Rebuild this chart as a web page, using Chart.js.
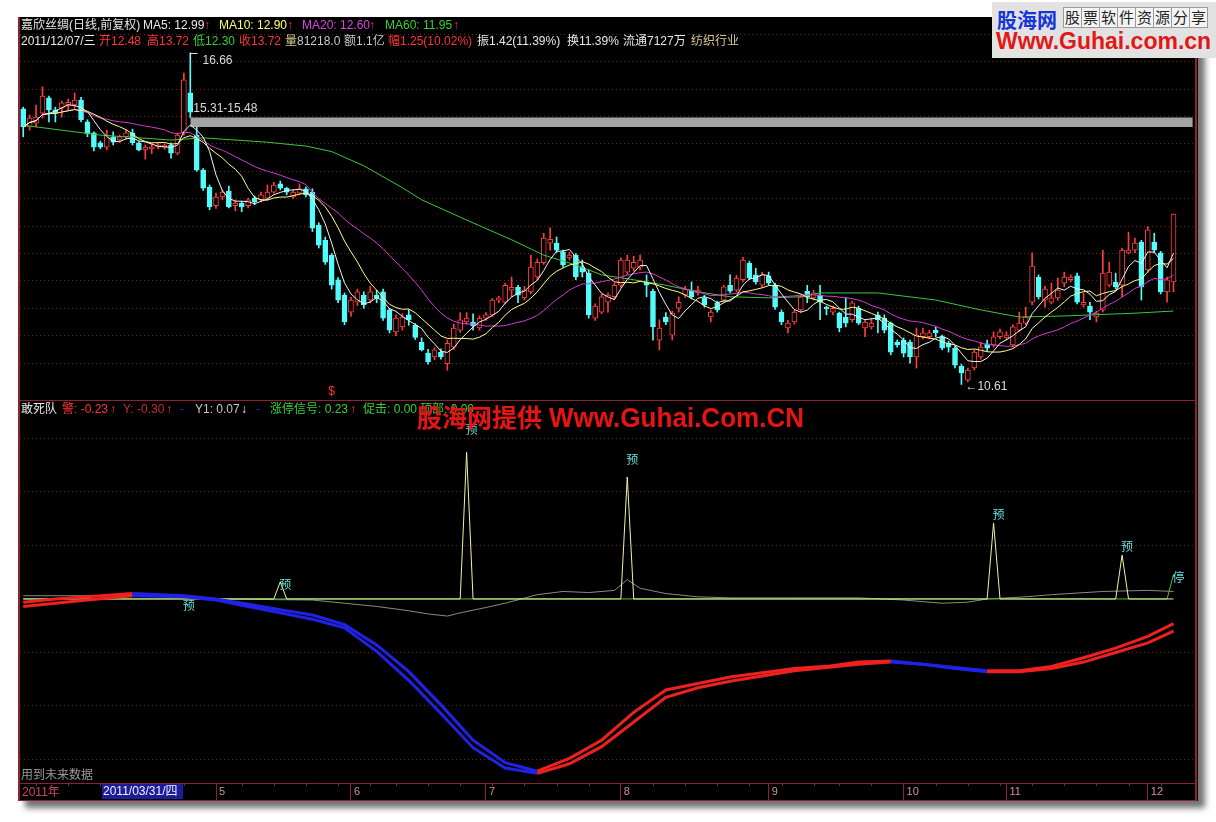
<!DOCTYPE html>
<html>
<head>
<meta charset="utf-8">
<script src="https://cdn.jsdelivr.net/npm/chart.js@4.4.1/dist/chart.umd.min.js"></script>
<style>
  html, body { margin: 0; padding: 0; }
  body { width: 1216px; height: 822px; position: relative; overflow: hidden; background: #fff;
         font-family: "Liberation Sans", "Noto Sans CJK SC", sans-serif; }
  #frame { position: absolute; left: 18px; top: 17px; width: 1180px; height: 784px; background: #000;
           box-shadow: 7px 7px 6px rgba(70,70,70,0.75); }
  .ln { position: absolute; background: #8c2232; }
  canvas { position: absolute; }
  .t { position: absolute; font-size: 12px; line-height: 13px; white-space: nowrap; color: #e8e8e8; }
  .r { color: #ff3434; } .g { color: #34d034; } .y { color: #ffff70; } .m { color: #e040e0; }
  .k { color: #d8c890; } .gy { color: #c8c8c8; }
  #wm { position: absolute; left: 417px; top: 398px; white-space: nowrap; color: #e81414; font-weight: bold; }
  #logo { position: absolute; left: 992px; top: 2px; width: 224px; height: 56px; background: #e2e2e2; }
  .box { display: inline-block; width: 17px; height: 19px; border: 1px solid #9a9a9a; background: #f4f4f4;
         font-size: 15px; line-height: 19px; text-align: center; color: #222; margin-right: -1px; }
</style>
</head>
<body>
<div id="frame"></div>
<canvas id="topChart" width="1176" height="382" style="left:20px;top:18px"></canvas>
<canvas id="botChart" width="1176" height="399" style="left:20px;top:401px"></canvas>
<div class="ln" style="left:18px;top:17px;width:2px;height:784px"></div>
<div class="ln" style="left:1195px;top:17px;width:2px;height:784px"></div>
<div class="ln" style="left:18px;top:400px;width:1179px;height:1px"></div>
<div class="ln" style="left:18px;top:800px;width:1179px;height:1px"></div>

<!-- 主图标题 -->
<div class="t" style="left:21px;top:19px">嘉欣丝绸(日线,前复权)</div>
<div class="t" style="left:143px;top:19px">MA5: 12.99</div><div class="t r" style="left:204px;top:19px">↑</div>
<div class="t y" style="left:219px;top:19px">MA10: 12.90</div><div class="t r" style="left:287px;top:19px">↑</div>
<div class="t m" style="left:302px;top:19px">MA20: 12.60</div><div class="t r" style="left:369px;top:19px">↑</div>
<div class="t g" style="left:385px;top:19px">MA60: 11.95</div><div class="t r" style="left:453px;top:19px">↑</div>

<div class="t" style="left:21px;top:35px">2011/12/07/三</div>
<div class="t r" style="left:99px;top:35px">开12.48</div>
<div class="t r" style="left:147px;top:35px">高13.72</div>
<div class="t g" style="left:193px;top:35px">低12.30</div>
<div class="t r" style="left:239px;top:35px">收13.72</div>
<div class="t k" style="left:285px;top:35px">量</div><div class="t gy" style="left:297px;top:35px">81218.0</div>
<div class="t gy" style="left:344px;top:35px">额1.1亿</div>
<div class="t r" style="left:388px;top:35px">幅1.25(10.02%)</div>
<div class="t" style="left:477px;top:35px">振1.42(11.39%)</div>
<div class="t" style="left:567px;top:35px">换11.39%</div>
<div class="t" style="left:623px;top:35px">流通7127万</div>
<div class="t k" style="left:691px;top:35px">纺织行业</div>

<!-- 副图标题 -->
<div class="t" style="left:21px;top:403px">敢死队</div>
<div class="t r" style="left:62px;top:403px">警: -0.23</div><div class="t r" style="left:110px;top:403px">↑</div>
<div class="t" style="left:123px;top:403px;color:#c03030">Y: -0.30</div><div class="t r" style="left:166px;top:403px">↑</div>
<div class="t" style="left:180px;top:403px;color:#2828c8">-</div>
<div class="t gy" style="left:195px;top:403px">Y1: 0.07</div><div class="t" style="left:241px;top:403px;color:#e0f0ff">↓</div>
<div class="t" style="left:256px;top:403px;color:#2828c8">-</div>
<div class="t g" style="left:270px;top:403px">涨停信号: 0.23</div><div class="t r" style="left:350px;top:403px">↑</div>
<div class="t g" style="left:363px;top:403px">促击: 0.00</div>
<div class="t g" style="left:420px;top:403px">顶部: 0.00</div>
<div id="wm"><span style="font-size:25px;font-family:'Noto Sans CJK SC'">股海网提供</span><span style="display:inline-block;font-size:28px;transform:scaleX(0.93);transform-origin:left;margin-left:7px">Www.Guhai.Com.CN</span></div>

<div class="t" style="left:21px;top:769px;color:#9a9a9a">用到未来数据</div>
<div class="t" style="left:22px;top:786px;color:#d04858">2011年</div>
<div class="t" style="left:102px;top:784px;width:80px;height:15px;line-height:15px;background:#1c1c96;color:#f0f0ff;padding-left:1px">2011/03/31/四</div>

<div id="logo">
  <div style="position:absolute;left:5px;top:3px;font-size:20px;font-weight:bold;color:#1636d8;font-family:'Noto Sans CJK SC'">股海网</div>
  <div style="position:absolute;left:71px;top:5px"><span class="box">股</span><span class="box">票</span><span class="box">软</span><span class="box">件</span><span class="box">资</span><span class="box">源</span><span class="box">分</span><span class="box">享</span></div>
  <div style="position:absolute;left:4px;top:26px;font-size:23px;font-weight:bold;color:#e01818">Www.Guhai.com.cn</div>
</div>

<script>
// ===== 交易日 =====
const tradeDays = [
  [3, [17,18,21,22,23,24,25,28,29,30,31]],
  [4, [1,6,7,8,11,12,13,14,15,18,19,20,21,22,25,26,27,28,29]],
  [5, [3,4,5,6,9,10,11,12,13,16,17,18,19,20,23,24,25,26,27,30,31]],
  [6, [1,2,3,7,8,9,10,13,14,15,16,17,20,21,22,23,24,27,28,29,30]],
  [7, [1,4,5,6,7,8,11,12,13,14,15,18,19,20,21,22,25,26,27,28,29]],
  [8, [1,2,3,4,5,8,9,10,11,12,15,16,17,18,19,22,23,24,25,26,29,30,31]],
  [9, [1,2,5,6,7,8,9,13,14,15,16,19,20,21,22,23,26,27,28,29,30]],
  [10, [10,11,12,13,14,17,18,19,20,21,24,25,26,27,28,31]],
  [11, [1,2,3,4,7,8,9,10,11,14,15,16,17,18,21,22,23,24,25,28,29,30]],
  [12, [1,2,5,6,7]]
];
const padLabels = ['2011-12-08', '2011-12-09', '2011-12-12'];

// ===== K线 =====
const openP = [
  15.64,15.31,15.38,15.56,15.84,15.62,15.65,15.71,15.71,15.80,
  15.40,15.20,15.02,14.94,15.13,15.07,15.13,15.20,15.02,14.89,
  14.91,14.94,14.94,14.98,14.83,15.20,15.93,15.16,14.52,14.21,
  13.87,14.03,14.14,13.87,13.92,13.87,14.01,13.98,14.01,14.12,
  14.27,14.19,14.03,14.10,14.18,14.12,13.52,13.24,12.97,12.52,
  12.24,11.93,12.11,12.24,12.15,12.24,12.30,11.97,11.57,11.66,
  11.88,11.69,11.38,11.18,11.11,11.20,10.99,11.29,11.60,11.75,
  11.75,11.64,11.82,11.88,12.15,12.11,12.33,12.38,12.19,12.30,
  12.57,12.83,13.19,13.19,13.03,12.92,12.97,12.75,12.64,11.82,
  11.93,12.11,12.21,12.42,12.66,12.73,12.75,12.48,12.31,11.42,
  11.84,11.51,12.00,12.24,12.33,12.28,12.19,11.84,12.10,12.15,
  12.42,12.33,12.52,12.82,12.61,12.42,12.59,12.42,11.93,11.64,
  11.75,11.97,12.31,12.19,12.24,12.02,11.93,11.91,11.84,11.79,
  12.00,11.64,11.66,11.88,11.82,11.73,11.38,11.42,11.38,11.11,
  11.48,11.48,11.60,11.48,11.36,11.27,10.94,10.69,10.91,11.11,
  11.35,11.33,11.48,11.46,11.33,11.60,11.73,12.11,12.57,12.15,
  12.11,12.19,12.46,12.52,12.59,12.06,12.04,11.84,11.97,12.42,
  12.48,12.42,13.01,13.06,13.21,12.70,13.21,13.01,12.30,12.48
];
const highP = [
  15.67,15.53,15.71,16.04,15.87,15.67,15.78,15.82,15.93,15.85,
  15.44,15.22,15.05,15.25,15.22,15.16,15.25,15.27,15.04,14.98,
  15.00,15.02,15.00,15.02,15.20,16.29,16.66,15.31,14.55,14.25,
  14.10,14.16,14.23,13.98,13.95,14.01,14.05,14.12,14.25,14.30,
  14.32,14.21,14.16,14.27,14.21,14.18,13.56,13.30,13.00,12.56,
  12.28,12.20,12.35,12.30,12.40,12.33,12.35,12.00,11.88,11.90,
  11.97,11.72,11.46,11.25,11.28,11.26,11.42,11.71,11.92,11.92,
  11.90,11.86,11.92,12.18,12.22,12.46,12.57,12.42,12.40,12.97,
  12.90,13.37,13.47,13.30,13.06,13.02,13.00,12.88,12.70,12.08,
  12.26,12.28,12.46,12.92,12.97,12.95,12.97,12.61,12.35,11.79,
  11.92,11.95,12.21,12.40,12.48,12.40,12.24,11.97,12.13,12.42,
  12.61,12.60,12.93,12.86,12.73,12.66,12.66,12.46,11.97,11.78,
  11.97,12.24,12.42,12.33,12.42,12.04,12.04,11.93,12.19,12.13,
  12.04,11.79,11.82,11.93,11.88,11.75,11.42,11.46,11.42,11.64,
  11.64,11.60,11.66,11.51,11.40,11.31,10.98,10.91,11.24,11.38,
  11.42,11.57,11.62,11.57,11.70,11.93,12.02,13.01,12.61,12.40,
  12.46,12.55,12.66,12.61,12.64,12.28,12.11,11.95,13.06,12.84,
  12.64,13.10,13.39,13.28,13.24,13.49,13.37,13.04,12.57,13.72
];
const lowP = [
  15.13,15.25,15.31,15.47,15.40,15.40,15.49,15.62,15.65,15.40,
  15.13,14.87,14.91,14.89,14.98,15.03,15.09,14.98,14.87,14.72,
  14.82,14.91,14.90,14.74,14.80,15.16,15.48,14.50,14.15,13.80,
  13.82,13.98,13.83,13.78,13.76,13.83,13.89,13.94,13.98,14.10,
  14.16,14.07,14.00,14.07,14.03,13.40,13.10,12.80,12.35,12.10,
  11.70,11.85,12.05,12.00,12.10,12.10,11.78,11.55,11.50,11.60,
  11.69,11.43,11.22,10.98,11.06,11.07,10.87,11.25,11.56,11.71,
  11.60,11.60,11.78,11.85,12.10,12.08,12.20,12.10,12.15,12.26,
  12.52,12.80,13.06,13.02,12.75,12.88,12.52,12.57,11.82,11.78,
  11.90,11.93,12.17,12.38,12.62,12.68,12.70,12.21,11.42,11.24,
  11.70,11.42,11.93,12.20,12.17,12.24,12.02,11.75,11.93,12.11,
  12.28,12.30,12.48,12.52,12.44,12.38,12.42,11.98,11.70,11.55,
  11.71,11.93,12.10,12.15,11.79,11.88,11.88,11.57,11.66,11.75,
  11.70,11.48,11.62,11.55,11.55,11.15,11.29,11.11,11.00,10.91,
  11.44,11.44,11.48,11.24,11.20,10.91,10.61,10.66,10.87,11.07,
  11.22,11.29,11.44,11.42,11.29,11.57,11.70,12.06,12.17,12.02,
  12.08,12.15,12.39,12.48,12.08,12.02,11.79,11.75,11.93,12.39,
  12.35,12.21,12.99,13.01,12.15,12.66,13.01,12.26,12.11,12.30
];
const closeP = [
  15.31,15.47,15.49,15.87,15.62,15.56,15.75,15.76,15.80,15.44,
  15.18,14.94,14.94,15.16,15.03,15.13,15.20,15.02,14.89,14.94,
  14.94,14.98,14.98,14.83,15.16,16.17,15.58,14.52,14.19,13.85,
  14.03,14.12,13.85,13.92,13.85,13.98,13.94,14.07,14.12,14.25,
  14.19,14.12,14.12,14.18,14.07,13.46,13.15,12.84,12.42,12.15,
  11.75,12.15,12.30,12.06,12.30,12.18,11.82,11.60,11.82,11.84,
  11.79,11.47,11.24,11.02,11.24,11.11,11.36,11.64,11.79,11.82,
  11.68,11.82,11.88,12.15,12.19,12.42,12.38,12.24,12.33,12.75,
  12.84,13.28,13.26,13.06,12.79,12.97,12.57,12.66,11.88,12.04,
  12.21,12.24,12.42,12.88,12.88,12.84,12.88,12.42,11.66,11.64,
  11.75,11.91,12.11,12.35,12.21,12.33,12.06,11.93,11.97,12.39,
  12.31,12.55,12.88,12.55,12.48,12.61,12.46,12.02,11.75,11.73,
  11.93,12.21,12.21,12.28,12.11,11.99,12.00,11.64,11.73,12.10,
  11.73,11.75,11.73,11.79,11.60,11.20,11.33,11.18,11.11,11.51,
  11.55,11.55,11.55,11.27,11.29,10.96,10.82,10.87,11.20,11.29,
  11.27,11.48,11.57,11.51,11.66,11.73,11.84,12.77,12.21,12.35,
  12.19,12.33,12.57,12.57,12.11,12.11,11.93,11.91,12.64,12.66,
  12.39,13.06,13.06,13.19,12.39,13.43,13.06,12.30,12.52,13.72
];

// MA60 读图取点
const ma60Idx = [0, 12, 23, 28, 38, 44, 48, 53, 59, 62, 69, 76, 81, 86, 90, 95, 100, 105, 110, 116, 121, 124, 133, 142, 149, 155, 162, 173, 179];
const ma60Val = [15.34, 15.16, 15.07, 15.11, 15.03, 14.96, 14.86, 14.60, 14.20, 13.98, 13.61, 13.25, 12.97, 12.79, 12.61, 12.52, 12.42, 12.30, 12.21, 12.19, 12.21, 12.28, 12.28, 12.15, 11.97, 11.84, 11.86, 11.91, 11.95];

// 缺口 / 标注
const gapIdx = 26, gapLo = 15.31, gapHi = 15.48;
const peakIdx = 26, lowIdx = 146, dollarIdx = 48;

// ===== 副图 =====
const lineIdx = [0,5,10,17,25,30,35,40,45,50,55,60,65,70,75,80,85,90,95,100,105,110,115,120,125,130,135,140,145,150,155,160,165,170,175,179];
const warnVal = [-0.03,0.00,0.02,0.05,0.03,0.00,-0.05,-0.10,-0.15,-0.24,-0.43,-0.68,-0.99,-1.32,-1.53,-1.61,-1.49,-1.32,-1.06,-0.85,-0.79,-0.73,-0.69,-0.65,-0.63,-0.59,-0.58,-0.61,-0.64,-0.67,-0.67,-0.63,-0.55,-0.46,-0.35,-0.23];
const yVal = [-0.07,-0.04,-0.01,0.03,0.02,-0.01,-0.07,-0.13,-0.19,-0.27,-0.49,-0.76,-1.07,-1.39,-1.58,-1.63,-1.54,-1.38,-1.15,-0.92,-0.83,-0.77,-0.72,-0.67,-0.64,-0.61,-0.59,-0.61,-0.65,-0.68,-0.68,-0.65,-0.59,-0.50,-0.41,-0.30];
const y1Idx = [0, 20, 30, 45, 50, 55, 60, 63, 66, 68, 72, 75, 80, 84, 88, 92, 94, 96, 100, 105, 110, 120, 130, 137, 143, 147, 150, 156, 160, 168, 175, 179];
const y1Val = [0.03, 0.03, 0.00, -0.01, -0.04, -0.07, -0.11, -0.14, -0.16, -0.13, -0.08, -0.04, 0.04, 0.07, 0.06, 0.08, 0.18, 0.10, 0.05, 0.02, 0.01, 0.01, 0.01, -0.01, -0.04, -0.03, 0.00, 0.02, 0.04, 0.07, 0.08, 0.07];
const spikeIdx = [40, 69, 94, 151, 171];
const spikeVal = [0.16, 1.37, 1.14, 0.71, 0.41];
const ztIdx = [0, 178, 179];
const ztVal = [0, 0, 0.23];
const noteIdx = [25, 40, 69, 94, 151, 171, 179];
const noteVal = [-0.06, 0.14, 1.58, 1.30, 0.79, 0.49, 0.20];
const noteText = ['预', '预', '预', '预', '预', '预', '停'];

// =====================================================
const labels = [];
tradeDays.forEach(([m, ds]) => ds.forEach(d =>
  labels.push('2011-' + String(m).padStart(2, '0') + '-' + String(d).padStart(2, '0'))));
const n = labels.length;
padLabels.forEach(l => labels.push(l));

const UP = '#ff3c3c', DOWN = '#54fcfc', GRID = '#6e1c26';
Chart.defaults.font.family = "'Liberation Sans','Noto Sans CJK SC',sans-serif";

function ma(k) {
  return closeP.map((_, i) => {
    const s = closeP.slice(Math.max(0, i - k + 1), i + 1);
    return s.reduce((a, b) => a + b, 0) / s.length;
  });
}
const pts = (idx, vals) => idx.map((k, j) => ({ x: labels[k], y: vals[j] }));
const isUp = i => closeP[i] >= openP[i];
const month = i => +labels[i].slice(5, 7);
const monthStart = i => i > 0 && i < n && month(i) !== month(i - 1);
const wday = i => new Date(2011, month(i) - 1, +labels[i].slice(8, 10)).getDay();
const weekStart = i => i > 0 && i < n && wday(i) < wday(i - 1) && !monthStart(i);
const halfStep = v => Math.abs(v * 2 - Math.round(v * 2)) < 1e-6;

const lineStyle = (color, width) => ({
  type: 'line', borderColor: color, borderWidth: width, pointRadius: 0, fill: false, tension: 0
});

// ===== 主图 =====
const topNotes = {
  id: 'topNotes',
  afterDatasetsDraw(chart) {
    const { ctx, scales: { x, y }, chartArea } = chart;
    ctx.save();
    ctx.font = "12px 'Liberation Sans', sans-serif";
    ctx.fillStyle = '#dcdcdc';
    ctx.strokeStyle = '#dcdcdc';
    ctx.lineWidth = 1;
    ctx.textBaseline = 'middle';
    const px = Math.round(x.getPixelForValue(peakIdx)) + 0.5;
    const py = Math.round(y.getPixelForValue(highP[peakIdx])) + 0.5;
    ctx.beginPath();
    ctx.moveTo(px, py + 6); ctx.lineTo(px, py); ctx.lineTo(px + 7, py);
    ctx.stroke();
    ctx.fillText(highP[peakIdx].toFixed(2), px + 12, py + 7);
    ctx.fillText(gapLo.toFixed(2) + '-' + gapHi.toFixed(2), x.getPixelForValue(gapIdx) + 3, y.getPixelForValue(gapHi) - 9);
    ctx.fillText('←' + lowP[lowIdx].toFixed(2), x.getPixelForValue(lowIdx) + 4, y.getPixelForValue(lowP[lowIdx]) + 2);
    ctx.fillStyle = '#ff3030';
    ctx.textAlign = 'center';
    ctx.fillText('$', x.getPixelForValue(dollarIdx), chartArea.bottom - 8);
    ctx.restore();
  }
};

new Chart(document.getElementById('topChart'), {
  type: 'bar',
  data: {
    labels: labels,
    datasets: [
      Object.assign(lineStyle('#f4f4f4', 1), { label: 'MA5', data: ma(5), order: 1 }),
      Object.assign(lineStyle('#ffff88', 1), { label: 'MA10', data: ma(10), order: 2 }),
      Object.assign(lineStyle('#d23cd2', 1), { label: 'MA20', data: ma(20), order: 3 }),
      Object.assign(lineStyle('#3cc83c', 1), { label: 'MA60', data: pts(ma60Idx, ma60Val), order: 4 }),
      {
        type: 'bar', label: 'body',
        data: openP.map((o, i) => [o, closeP[i]]),
        backgroundColor: openP.map((_, i) => isUp(i) ? '#000' : DOWN),
        borderColor: openP.map((_, i) => isUp(i) ? UP : DOWN),
        borderWidth: 1, borderSkipped: false, barThickness: 5, minBarLength: 1,
        grouped: false, order: 10
      },
      {
        type: 'bar', label: 'wick',
        data: lowP.map((l, i) => [l, highP[i]]),
        backgroundColor: openP.map((_, i) => isUp(i) ? UP : DOWN),
        barThickness: 1, grouped: false, order: 11
      },
      Object.assign(lineStyle('rgba(0,0,0,0)', 0), {
        label: 'gapLo', data: [{ x: labels[gapIdx], y: gapLo }, { x: labels[labels.length - 1], y: gapLo }], order: 20
      }),
      Object.assign(lineStyle('rgba(0,0,0,0)', 0), {
        label: 'gapHi', data: [{ x: labels[gapIdx], y: gapHi }, { x: labels[labels.length - 1], y: gapHi }],
        fill: '-1', backgroundColor: '#a4a4a4', order: 19
      })
    ]
  },
  options: {
    responsive: false, animation: false, devicePixelRatio: 1,
    layout: { padding: 0 },
    plugins: { legend: { display: false }, tooltip: { enabled: false } },
    scales: {
      x: { display: false, offset: true },
      y: {
        min: 10.326, max: 17.297,
        ticks: { display: false, stepSize: 0.5 },
        grid: { drawTicks: false, color: c => halfStep(c.tick.value) ? GRID : 'rgba(0,0,0,0)' },
        border: { display: false, dash: [1, 3] }
      }
    }
  },
  plugins: [topNotes]
});

// ===== 副图 =====
const spikePts = [{ x: labels[0], y: 0 }];
spikeIdx.forEach((k, j) => {
  spikePts.push({ x: labels[k - 1], y: 0 }, { x: labels[k], y: spikeVal[j] }, { x: labels[k + 1], y: 0 });
});
spikePts.push({ x: labels[n - 1], y: 0 });

const trendColor = c => c.p1.parsed.y >= c.p0.parsed.y ? '#ee2020' : '#2222e6';

const botNotes = {
  id: 'botNotes',
  afterDatasetsDraw(chart) {
    const { ctx, scales: { x, y } } = chart;
    ctx.save();
    ctx.font = "12px 'Noto Sans CJK SC', sans-serif";
    ctx.fillStyle = '#66e0dc';
    ctx.textBaseline = 'middle';
    noteIdx.forEach((k, j) => ctx.fillText(noteText[j], x.getPixelForValue(k) - 1, y.getPixelForValue(noteVal[j])));
    // 周刻度
    ctx.strokeStyle = '#8c2232';
    ctx.lineWidth = 1;
    for (let i = 1; i < n; i++) {
      if (!weekStart(i)) continue;
      const px = Math.round(x.getPixelForValue(i)) + 0.5;
      ctx.beginPath(); ctx.moveTo(px, x.top); ctx.lineTo(px, x.top + 3); ctx.stroke();
    }
    ctx.restore();
  }
};

new Chart(document.getElementById('botChart'), {
  type: 'line',
  data: {
    labels: labels,
    datasets: [
      Object.assign(lineStyle('#ee2020', 3), { label: '警', data: pts(lineIdx, warnVal), segment: { borderColor: trendColor }, order: 1 }),
      Object.assign(lineStyle('#ee2020', 3), { label: 'Y', data: pts(lineIdx, yVal), segment: { borderColor: trendColor }, order: 2 }),
      Object.assign(lineStyle('#f2f2a6', 1), { label: '预', data: spikePts, order: 3 }),
      Object.assign(lineStyle('#38c838', 1), { label: '涨停信号', data: pts(ztIdx, ztVal), order: 4 }),
      Object.assign(lineStyle('#8c8c78', 1), { label: 'Y1', data: pts(y1Idx, y1Val), order: 5 })
    ]
  },
  options: {
    responsive: false, animation: false, devicePixelRatio: 1,
    layout: { padding: 0 },
    plugins: { legend: { display: false }, tooltip: { enabled: false } },
    scales: {
      x: {
        offset: true,
        grid: {
          display: true, drawOnChartArea: false, drawTicks: true, tickLength: 17, offset: false,
          tickColor: c => monthStart(c.index) && month(c.index) >= 5 ? '#8c2232' : 'rgba(0,0,0,0)'
        },
        border: { display: true, color: '#8c2232' },
        ticks: {
          autoSkip: false, maxRotation: 0, minRotation: 0, align: 'start', padding: -15, labelOffset: 3,
          color: '#d0909a', font: { size: 11 },
          callback: (v, i) => monthStart(i) && month(i) >= 5 ? String(month(i)) : ''
        },
        afterFit: s => { s.height = 17; }
      },
      y: {
        min: -1.72, max: 1.85,
        ticks: { display: false, stepSize: 0.5 },
        grid: { drawTicks: false, color: c => halfStep(c.tick.value) && c.tick.value !== 0 ? GRID : 'rgba(0,0,0,0)' },
        border: { display: false, dash: [1, 3] }
      }
    }
  },
  plugins: [botNotes]
});
</script>
</body>
</html>
